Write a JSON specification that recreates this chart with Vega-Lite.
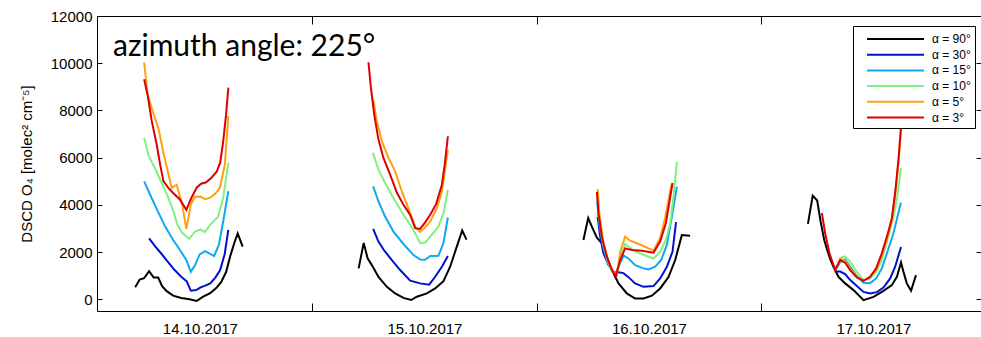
{
"$schema": "https://vega.github.io/schema/vega-lite/v6.json",
"width": 884, "height": 295,
"autosize": "none",
"padding": {"left": 97, "top": 16, "right": 0, "bottom": 26},
"background": "#ffffff",
"config": {"view": {"stroke": "#000", "strokeWidth": 1}, "font": "Liberation Sans"},
"title": {"text": "azimuth angle: 225°", "anchor": "start", "frame": "group", "orient": "top", "offset": -77, "dx": 16, "font": "Lato", "fontSize": 30, "fontWeight": "normal", "color": "#000", "baseline": "alphabetic"},
"data": {"values": [
{"a":"α = 90°","d":1,"h":5.08,"v":510},{"a":"α = 90°","d":1,"h":5.56,"v":830},{"a":"α = 90°","d":1,"h":6.04,"v":890},{"a":"α = 90°","d":1,"h":6.57,"v":1190},{"a":"α = 90°","d":1,"h":7.06,"v":920},{"a":"α = 90°","d":1,"h":7.54,"v":915},{"a":"α = 90°","d":1,"h":7.96,"v":550},{"a":"α = 90°","d":1,"h":8.45,"v":340},{"a":"α = 90°","d":1,"h":9.14,"v":150},{"a":"α = 90°","d":1,"h":10.0,"v":55},{"a":"α = 90°","d":1,"h":10.9,"v":0},{"a":"α = 90°","d":1,"h":11.65,"v":-75},{"a":"α = 90°","d":1,"h":12.35,"v":105},{"a":"α = 90°","d":1,"h":13.1,"v":255},{"a":"α = 90°","d":1,"h":13.74,"v":470},{"a":"α = 90°","d":1,"h":14.27,"v":720},{"a":"α = 90°","d":1,"h":14.8,"v":1150},{"a":"α = 90°","d":1,"h":15.29,"v":1890},{"a":"α = 90°","d":1,"h":15.66,"v":2360},{"a":"α = 90°","d":1,"h":16.04,"v":2790},{"a":"α = 90°","d":1,"h":16.57,"v":2225},
{"a":"α = 90°","d":2,"h":28.97,"v":1305},{"a":"α = 90°","d":2,"h":29.51,"v":2385},{"a":"α = 90°","d":2,"h":29.93,"v":1730},{"a":"α = 90°","d":2,"h":30.38,"v":1445},{"a":"α = 90°","d":2,"h":31.11,"v":935},{"a":"α = 90°","d":2,"h":31.99,"v":525},{"a":"α = 90°","d":2,"h":32.87,"v":245},{"a":"α = 90°","d":2,"h":33.76,"v":55},{"a":"α = 90°","d":2,"h":34.58,"v":-35},{"a":"α = 90°","d":2,"h":35.19,"v":105},{"a":"α = 90°","d":2,"h":36.26,"v":245},{"a":"α = 90°","d":2,"h":37.15,"v":455},{"a":"α = 90°","d":2,"h":38.04,"v":765},{"a":"α = 90°","d":2,"h":38.75,"v":1375},{"a":"α = 90°","d":2,"h":39.4,"v":2155},{"a":"α = 90°","d":2,"h":40.04,"v":2915},{"a":"α = 90°","d":2,"h":40.5,"v":2525},
{"a":"α = 90°","d":3,"h":53.0,"v":2510},{"a":"α = 90°","d":3,"h":53.51,"v":3435},{"a":"α = 90°","d":3,"h":53.9,"v":3075},{"a":"α = 90°","d":3,"h":54.44,"v":2605},{"a":"α = 90°","d":3,"h":54.97,"v":2370},{"a":"α = 90°","d":3,"h":55.5,"v":1800},{"a":"α = 90°","d":3,"h":56.04,"v":1235},{"a":"α = 90°","d":3,"h":56.75,"v":670},{"a":"α = 90°","d":3,"h":57.64,"v":245},{"a":"α = 90°","d":3,"h":58.53,"v":30},{"a":"α = 90°","d":3,"h":59.42,"v":30},{"a":"α = 90°","d":3,"h":60.32,"v":150},{"a":"α = 90°","d":3,"h":61.2,"v":455},{"a":"α = 90°","d":3,"h":62.09,"v":935},{"a":"α = 90°","d":3,"h":62.81,"v":1660},{"a":"α = 90°","d":3,"h":63.52,"v":2715},{"a":"α = 90°","d":3,"h":64.41,"v":2690},
{"a":"α = 90°","d":4,"h":77.0,"v":3190},{"a":"α = 90°","d":4,"h":77.51,"v":4390},{"a":"α = 90°","d":4,"h":77.99,"v":4180},{"a":"α = 90°","d":4,"h":78.36,"v":3275},{"a":"α = 90°","d":4,"h":78.74,"v":2510},{"a":"α = 90°","d":4,"h":79.06,"v":2085},{"a":"α = 90°","d":4,"h":79.38,"v":1700},{"a":"α = 90°","d":4,"h":79.73,"v":1375},{"a":"α = 90°","d":4,"h":80.26,"v":950},{"a":"α = 90°","d":4,"h":80.98,"v":670},{"a":"α = 90°","d":4,"h":81.87,"v":385},{"a":"α = 90°","d":4,"h":82.94,"v":-40},{"a":"α = 90°","d":4,"h":84.01,"v":100},{"a":"α = 90°","d":4,"h":85.07,"v":355},{"a":"α = 90°","d":4,"h":85.97,"v":595},{"a":"α = 90°","d":4,"h":86.51,"v":950},{"a":"α = 90°","d":4,"h":86.95,"v":1555},{"a":"α = 90°","d":4,"h":87.21,"v":1160},{"a":"α = 90°","d":4,"h":87.56,"v":680},{"a":"α = 90°","d":4,"h":88.02,"v":360},{"a":"α = 90°","d":4,"h":88.55,"v":1020},
{"a":"α = 30°","d":1,"h":6.57,"v":2575},{"a":"α = 30°","d":1,"h":7.22,"v":2235},{"a":"α = 30°","d":1,"h":7.91,"v":1915},{"a":"α = 30°","d":1,"h":8.6,"v":1575},{"a":"α = 30°","d":1,"h":9.3,"v":1235},{"a":"α = 30°","d":1,"h":10.0,"v":950},{"a":"α = 30°","d":1,"h":10.58,"v":765},{"a":"α = 30°","d":1,"h":11.03,"v":360},{"a":"α = 30°","d":1,"h":11.6,"v":385},{"a":"α = 30°","d":1,"h":12.03,"v":490},{"a":"α = 30°","d":1,"h":12.56,"v":575},{"a":"α = 30°","d":1,"h":13.1,"v":670},{"a":"α = 30°","d":1,"h":13.63,"v":905},{"a":"α = 30°","d":1,"h":14.17,"v":1235},{"a":"α = 30°","d":1,"h":14.65,"v":1915},{"a":"α = 30°","d":1,"h":15.04,"v":2935},
{"a":"α = 30°","d":2,"h":30.52,"v":2980},{"a":"α = 30°","d":2,"h":31.09,"v":2440},{"a":"α = 30°","d":2,"h":31.7,"v":2065},{"a":"α = 30°","d":2,"h":32.52,"v":1660},{"a":"α = 30°","d":2,"h":33.41,"v":1235},{"a":"α = 30°","d":2,"h":34.48,"v":785},{"a":"α = 30°","d":2,"h":35.55,"v":670},{"a":"α = 30°","d":2,"h":36.51,"v":615},{"a":"α = 30°","d":2,"h":37.15,"v":950},{"a":"α = 30°","d":2,"h":37.87,"v":1375},{"a":"α = 30°","d":2,"h":38.51,"v":1830},
{"a":"α = 30°","d":3,"h":54.52,"v":3490},{"a":"α = 30°","d":3,"h":54.79,"v":2650},{"a":"α = 30°","d":3,"h":55.14,"v":1945},{"a":"α = 30°","d":3,"h":55.68,"v":1445},{"a":"α = 30°","d":3,"h":56.21,"v":1160},{"a":"α = 30°","d":3,"h":56.75,"v":1140},{"a":"α = 30°","d":3,"h":57.28,"v":1105},{"a":"α = 30°","d":3,"h":57.81,"v":935},{"a":"α = 30°","d":3,"h":58.53,"v":670},{"a":"α = 30°","d":3,"h":59.42,"v":525},{"a":"α = 30°","d":3,"h":60.49,"v":555},{"a":"α = 30°","d":3,"h":61.2,"v":880},{"a":"α = 30°","d":3,"h":61.92,"v":1375},{"a":"α = 30°","d":3,"h":62.52,"v":2010},{"a":"α = 30°","d":3,"h":62.9,"v":3265},
{"a":"α = 30°","d":4,"h":79.91,"v":1170},{"a":"α = 30°","d":4,"h":80.45,"v":1170},{"a":"α = 30°","d":4,"h":80.98,"v":1065},{"a":"α = 30°","d":4,"h":81.52,"v":810},{"a":"α = 30°","d":4,"h":82.23,"v":555},{"a":"α = 30°","d":4,"h":82.94,"v":310},{"a":"α = 30°","d":4,"h":83.65,"v":245},{"a":"α = 30°","d":4,"h":84.37,"v":300},{"a":"α = 30°","d":4,"h":85.07,"v":490},{"a":"α = 30°","d":4,"h":85.79,"v":880},{"a":"α = 30°","d":4,"h":86.32,"v":1375},{"a":"α = 30°","d":4,"h":86.95,"v":2210},
{"a":"α = 15°","d":1,"h":6.04,"v":4990},{"a":"α = 15°","d":1,"h":6.68,"v":4425},{"a":"α = 15°","d":1,"h":7.38,"v":3830},{"a":"α = 15°","d":1,"h":8.29,"v":3075},{"a":"α = 15°","d":1,"h":9.14,"v":2510},{"a":"α = 15°","d":1,"h":9.94,"v":2040},{"a":"α = 15°","d":1,"h":10.55,"v":1660},{"a":"α = 15°","d":1,"h":11.03,"v":1160},{"a":"α = 15°","d":1,"h":11.49,"v":1445},{"a":"α = 15°","d":1,"h":11.97,"v":1895},{"a":"α = 15°","d":1,"h":12.56,"v":2040},{"a":"α = 15°","d":1,"h":13.52,"v":1830},{"a":"α = 15°","d":1,"h":14.03,"v":2300},{"a":"α = 15°","d":1,"h":14.49,"v":3290},{"a":"α = 15°","d":1,"h":15.04,"v":4580},
{"a":"α = 15°","d":2,"h":30.52,"v":4780},{"a":"α = 15°","d":2,"h":31.09,"v":4140},{"a":"α = 15°","d":2,"h":31.8,"v":3500},{"a":"α = 15°","d":2,"h":32.69,"v":2865},{"a":"α = 15°","d":2,"h":33.76,"v":2340},{"a":"α = 15°","d":2,"h":34.83,"v":1870},{"a":"α = 15°","d":2,"h":35.55,"v":1680},{"a":"α = 15°","d":2,"h":36.08,"v":1670},{"a":"α = 15°","d":2,"h":36.62,"v":1830},{"a":"α = 15°","d":2,"h":37.5,"v":1840},{"a":"α = 15°","d":2,"h":38.04,"v":2385},{"a":"α = 15°","d":2,"h":38.51,"v":3460},
{"a":"α = 15°","d":3,"h":54.47,"v":4140},{"a":"α = 15°","d":3,"h":54.68,"v":3220},{"a":"α = 15°","d":3,"h":55.04,"v":2370},{"a":"α = 15°","d":3,"h":55.5,"v":1660},{"a":"α = 15°","d":3,"h":56.04,"v":1205},{"a":"α = 15°","d":3,"h":56.45,"v":1105},{"a":"α = 15°","d":3,"h":56.82,"v":1445},{"a":"α = 15°","d":3,"h":57.3,"v":1850},{"a":"α = 15°","d":3,"h":57.81,"v":1725},{"a":"α = 15°","d":3,"h":58.53,"v":1445},{"a":"α = 15°","d":3,"h":59.42,"v":1305},{"a":"α = 15°","d":3,"h":59.95,"v":1265},{"a":"α = 15°","d":3,"h":60.67,"v":1375},{"a":"α = 15°","d":3,"h":61.31,"v":1660},{"a":"α = 15°","d":3,"h":61.92,"v":2300},{"a":"α = 15°","d":3,"h":62.45,"v":3490},{"a":"α = 15°","d":3,"h":62.99,"v":4765},
{"a":"α = 15°","d":4,"h":79.91,"v":1205},{"a":"α = 15°","d":4,"h":80.45,"v":1575},{"a":"α = 15°","d":4,"h":80.98,"v":1680},{"a":"α = 15°","d":4,"h":81.52,"v":1375},{"a":"α = 15°","d":4,"h":82.23,"v":980},{"a":"α = 15°","d":4,"h":82.94,"v":695},{"a":"α = 15°","d":4,"h":83.65,"v":680},{"a":"α = 15°","d":4,"h":84.29,"v":880},{"a":"α = 15°","d":4,"h":84.9,"v":1305},{"a":"α = 15°","d":4,"h":85.5,"v":2010},{"a":"α = 15°","d":4,"h":86.14,"v":2795},{"a":"α = 15°","d":4,"h":86.94,"v":4100},
{"a":"α = 10°","d":1,"h":6.04,"v":6840},{"a":"α = 10°","d":1,"h":6.52,"v":6085},{"a":"α = 10°","d":1,"h":7.22,"v":5530},{"a":"α = 10°","d":1,"h":7.91,"v":4925},{"a":"α = 10°","d":1,"h":8.5,"v":4425},{"a":"α = 10°","d":1,"h":9.12,"v":3785},{"a":"α = 10°","d":1,"h":9.6,"v":3150},{"a":"α = 10°","d":1,"h":10.1,"v":2810},{"a":"α = 10°","d":1,"h":10.85,"v":2555},{"a":"α = 10°","d":1,"h":11.49,"v":2870},{"a":"α = 10°","d":1,"h":12.03,"v":2955},{"a":"α = 10°","d":1,"h":12.51,"v":2840},{"a":"α = 10°","d":1,"h":13.1,"v":3150},{"a":"α = 10°","d":1,"h":13.95,"v":3500},{"a":"α = 10°","d":1,"h":14.49,"v":4285},{"a":"α = 10°","d":1,"h":15.04,"v":5775},
{"a":"α = 10°","d":2,"h":30.49,"v":6200},{"a":"α = 10°","d":2,"h":31.09,"v":5490},{"a":"α = 10°","d":2,"h":31.8,"v":4925},{"a":"α = 10°","d":2,"h":32.69,"v":4285},{"a":"α = 10°","d":2,"h":33.76,"v":3575},{"a":"α = 10°","d":2,"h":34.83,"v":2935},{"a":"α = 10°","d":2,"h":35.55,"v":2370},{"a":"α = 10°","d":2,"h":36.08,"v":2395},{"a":"α = 10°","d":2,"h":36.62,"v":2650},{"a":"α = 10°","d":2,"h":37.5,"v":3075},{"a":"α = 10°","d":2,"h":38.04,"v":3645},{"a":"α = 10°","d":2,"h":38.51,"v":4640},
{"a":"α = 10°","d":3,"h":54.49,"v":4470},{"a":"α = 10°","d":3,"h":54.79,"v":3360},{"a":"α = 10°","d":3,"h":55.14,"v":2300},{"a":"α = 10°","d":3,"h":55.64,"v":1575},{"a":"α = 10°","d":3,"h":56.07,"v":1150},{"a":"α = 10°","d":3,"h":56.55,"v":1020},{"a":"α = 10°","d":3,"h":56.93,"v":1745},{"a":"α = 10°","d":3,"h":57.46,"v":2340},{"a":"α = 10°","d":3,"h":58.0,"v":2170},{"a":"α = 10°","d":3,"h":58.71,"v":2000},{"a":"α = 10°","d":3,"h":59.6,"v":1850},{"a":"α = 10°","d":3,"h":60.49,"v":1725},{"a":"α = 10°","d":3,"h":61.2,"v":2010},{"a":"α = 10°","d":3,"h":61.81,"v":2510},{"a":"α = 10°","d":3,"h":62.27,"v":3220},{"a":"α = 10°","d":3,"h":62.65,"v":4425},{"a":"α = 10°","d":3,"h":62.99,"v":5815},
{"a":"α = 10°","d":4,"h":79.91,"v":1235},{"a":"α = 10°","d":4,"h":80.63,"v":1775},{"a":"α = 10°","d":4,"h":80.98,"v":1810},{"a":"α = 10°","d":4,"h":81.52,"v":1585},{"a":"α = 10°","d":4,"h":82.23,"v":1160},{"a":"α = 10°","d":4,"h":82.94,"v":810},{"a":"α = 10°","d":4,"h":83.65,"v":870},{"a":"α = 10°","d":4,"h":84.29,"v":1160},{"a":"α = 10°","d":4,"h":84.9,"v":1660},{"a":"α = 10°","d":4,"h":85.5,"v":2510},{"a":"α = 10°","d":4,"h":86.08,"v":3360},{"a":"α = 10°","d":4,"h":86.51,"v":4210},{"a":"α = 10°","d":4,"h":86.94,"v":5560},
{"a":"α = 5°","d":1,"h":6.04,"v":10030},{"a":"α = 5°","d":1,"h":6.41,"v":8680},{"a":"α = 5°","d":1,"h":6.9,"v":8040},{"a":"α = 5°","d":1,"h":7.59,"v":7190},{"a":"α = 5°","d":1,"h":8.07,"v":6255},{"a":"α = 5°","d":1,"h":8.55,"v":5445},{"a":"α = 5°","d":1,"h":8.98,"v":4720},{"a":"α = 5°","d":1,"h":9.52,"v":4850},{"a":"α = 5°","d":1,"h":10.11,"v":4000},{"a":"α = 5°","d":1,"h":10.55,"v":2980},{"a":"α = 5°","d":1,"h":11.03,"v":4000},{"a":"α = 5°","d":1,"h":11.46,"v":4340},{"a":"α = 5°","d":1,"h":12.03,"v":4350},{"a":"α = 5°","d":1,"h":12.59,"v":4235},{"a":"α = 5°","d":1,"h":13.1,"v":4300},{"a":"α = 5°","d":1,"h":13.6,"v":4455},{"a":"α = 5°","d":1,"h":14.13,"v":4710},{"a":"α = 5°","d":1,"h":14.67,"v":5700},{"a":"α = 5°","d":1,"h":15.04,"v":7760},
{"a":"α = 5°","d":2,"h":30.52,"v":8470},{"a":"α = 5°","d":2,"h":30.92,"v":7545},{"a":"α = 5°","d":2,"h":31.45,"v":6695},{"a":"α = 5°","d":2,"h":32.16,"v":5985},{"a":"α = 5°","d":2,"h":32.87,"v":5415},{"a":"α = 5°","d":2,"h":33.59,"v":4565},{"a":"α = 5°","d":2,"h":34.3,"v":3830},{"a":"α = 5°","d":2,"h":35.01,"v":3075},{"a":"α = 5°","d":2,"h":35.55,"v":2850},{"a":"α = 5°","d":2,"h":35.97,"v":3000},{"a":"α = 5°","d":2,"h":36.62,"v":3290},{"a":"α = 5°","d":2,"h":37.33,"v":3860},{"a":"α = 5°","d":2,"h":37.87,"v":4565},{"a":"α = 5°","d":2,"h":38.51,"v":6320},
{"a":"α = 5°","d":3,"h":54.54,"v":4660},{"a":"α = 5°","d":3,"h":54.68,"v":3645},{"a":"α = 5°","d":3,"h":55.14,"v":2370},{"a":"α = 5°","d":3,"h":55.68,"v":1585},{"a":"α = 5°","d":3,"h":56.21,"v":1160},{"a":"α = 5°","d":3,"h":56.57,"v":1020},{"a":"α = 5°","d":3,"h":56.93,"v":2010},{"a":"α = 5°","d":3,"h":57.46,"v":2650},{"a":"α = 5°","d":3,"h":58.0,"v":2480},{"a":"α = 5°","d":3,"h":58.71,"v":2370},{"a":"α = 5°","d":3,"h":59.42,"v":2255},{"a":"α = 5°","d":3,"h":59.95,"v":2155},{"a":"α = 5°","d":3,"h":60.49,"v":2055},{"a":"α = 5°","d":3,"h":61.2,"v":2595},{"a":"α = 5°","d":3,"h":61.74,"v":3450},{"a":"α = 5°","d":3,"h":62.17,"v":4380},{"a":"α = 5°","d":3,"h":62.45,"v":4890},
{"a":"α = 5°","d":4,"h":79.91,"v":1235},{"a":"α = 5°","d":4,"h":80.45,"v":1725},{"a":"α = 5°","d":4,"h":80.98,"v":1615},{"a":"α = 5°","d":4,"h":81.52,"v":1300},{"a":"α = 5°","d":4,"h":82.23,"v":955},{"a":"α = 5°","d":4,"h":82.94,"v":790},{"a":"α = 5°","d":4,"h":83.65,"v":935},{"a":"α = 5°","d":4,"h":84.29,"v":1255},{"a":"α = 5°","d":4,"h":84.9,"v":1870},{"a":"α = 5°","d":4,"h":85.5,"v":2615},{"a":"α = 5°","d":4,"h":85.97,"v":3320},{"a":"α = 5°","d":4,"h":86.32,"v":4380},{"a":"α = 5°","d":4,"h":86.68,"v":5830},{"a":"α = 5°","d":4,"h":86.97,"v":7320},
{"a":"α = 3°","d":1,"h":6.04,"v":9320},{"a":"α = 3°","d":1,"h":6.45,"v":8575},{"a":"α = 3°","d":1,"h":6.84,"v":7575},{"a":"α = 3°","d":1,"h":7.38,"v":6555},{"a":"α = 3°","d":1,"h":7.75,"v":5700},{"a":"α = 3°","d":1,"h":8.1,"v":5000},{"a":"α = 3°","d":1,"h":8.6,"v":4725},{"a":"α = 3°","d":1,"h":9.14,"v":4500},{"a":"α = 3°","d":1,"h":9.84,"v":4235},{"a":"α = 3°","d":1,"h":10.55,"v":3785},{"a":"α = 3°","d":1,"h":11.06,"v":4265},{"a":"α = 3°","d":1,"h":11.65,"v":4725},{"a":"α = 3°","d":1,"h":12.13,"v":4895},{"a":"α = 3°","d":1,"h":12.67,"v":4955},{"a":"α = 3°","d":1,"h":13.2,"v":5130},{"a":"α = 3°","d":1,"h":13.81,"v":5415},{"a":"α = 3°","d":1,"h":14.17,"v":5785},{"a":"α = 3°","d":1,"h":14.49,"v":6680},{"a":"α = 3°","d":1,"h":14.8,"v":7830},{"a":"α = 3°","d":1,"h":15.04,"v":8965},
{"a":"α = 3°","d":2,"h":30.02,"v":10040},{"a":"α = 3°","d":2,"h":30.28,"v":8965},{"a":"α = 3°","d":2,"h":30.63,"v":7830},{"a":"α = 3°","d":2,"h":31.09,"v":6765},{"a":"α = 3°","d":2,"h":31.62,"v":5985},{"a":"α = 3°","d":2,"h":32.34,"v":5275},{"a":"α = 3°","d":2,"h":33.06,"v":4510},{"a":"α = 3°","d":2,"h":33.76,"v":4000},{"a":"α = 3°","d":2,"h":34.48,"v":3575},{"a":"α = 3°","d":2,"h":35.01,"v":3010},{"a":"α = 3°","d":2,"h":35.55,"v":2980},{"a":"α = 3°","d":2,"h":36.08,"v":3255},{"a":"α = 3°","d":2,"h":36.62,"v":3575},{"a":"α = 3°","d":2,"h":37.26,"v":4040},{"a":"α = 3°","d":2,"h":37.87,"v":4850},{"a":"α = 3°","d":2,"h":38.17,"v":5700},{"a":"α = 3°","d":2,"h":38.51,"v":6905},
{"a":"α = 3°","d":3,"h":54.44,"v":4550},{"a":"α = 3°","d":3,"h":54.61,"v":3645},{"a":"α = 3°","d":3,"h":54.97,"v":2650},{"a":"α = 3°","d":3,"h":55.5,"v":1800},{"a":"α = 3°","d":3,"h":56.04,"v":1235},{"a":"α = 3°","d":3,"h":56.47,"v":980},{"a":"α = 3°","d":3,"h":56.93,"v":1660},{"a":"α = 3°","d":3,"h":57.46,"v":2155},{"a":"α = 3°","d":3,"h":58.18,"v":2085},{"a":"α = 3°","d":3,"h":59.25,"v":2055},{"a":"α = 3°","d":3,"h":60.49,"v":1970},{"a":"α = 3°","d":3,"h":61.2,"v":2440},{"a":"α = 3°","d":3,"h":61.81,"v":3220},{"a":"α = 3°","d":3,"h":62.17,"v":4070},{"a":"α = 3°","d":3,"h":62.52,"v":4925},
{"a":"α = 3°","d":4,"h":78.49,"v":3645},{"a":"α = 3°","d":4,"h":78.84,"v":2795},{"a":"α = 3°","d":4,"h":79.3,"v":1945},{"a":"α = 3°","d":4,"h":79.91,"v":1235},{"a":"α = 3°","d":4,"h":80.45,"v":1660},{"a":"α = 3°","d":4,"h":80.98,"v":1545},{"a":"α = 3°","d":4,"h":81.52,"v":1235},{"a":"α = 3°","d":4,"h":82.23,"v":925},{"a":"α = 3°","d":4,"h":82.94,"v":780},{"a":"α = 3°","d":4,"h":83.65,"v":950},{"a":"α = 3°","d":4,"h":84.29,"v":1305},{"a":"α = 3°","d":4,"h":84.9,"v":1945},{"a":"α = 3°","d":4,"h":85.5,"v":2725},{"a":"α = 3°","d":4,"h":85.97,"v":3435},{"a":"α = 3°","d":4,"h":86.32,"v":4500},{"a":"α = 3°","d":4,"h":86.68,"v":5915},{"a":"α = 3°","d":4,"h":86.97,"v":7400}
]},
"layer": [
{"mark": {"type": "line", "strokeWidth": 2, "clip": true},
 "encoding": {
  "x": {"field": "h", "type": "quantitative", "scale": {"domain": [1, 95.5], "nice": false, "zero": false},
        "axis": {"orient": "bottom", "values": [12,24,36,48,60,72,84], "labelExpr": "datum.value==12?'14.10.2017':datum.value==36?'15.10.2017':datum.value==60?'16.10.2017':datum.value==84?'17.10.2017':''",
                 "tickSize": -8, "tickColor": "#000", "tickOpacity": {"condition": {"test": "datum.value % 24 == 12", "value": 0}, "value": 1},
                 "domain": false, "grid": false, "labelFont": "Liberation Sans", "labelFontSize": 15, "labelColor": "#000", "labelPadding": 18, "labelFlush": false, "labelOverlap": false, "title": null}},
  "y": {"field": "v", "type": "quantitative", "scale": {"domain": [-500, 12000], "nice": false, "zero": false},
        "axis": {"orient": "left", "values": [0,2000,4000,6000,8000,10000,12000], "format": "d", "tickSize": -5, "tickColor": "#000", "domain": false, "grid": false,
                 "labelFont": "Liberation Sans", "labelFontSize": 15, "labelColor": "#000", "labelPadding": 10, "labelFlush": false, "labelOverlap": false,
                 "title": "DSCD O₄ [molec² cm⁻⁵]", "titleFont": "Liberation Sans", "titleFontSize": 15, "titleFontWeight": "normal", "titleColor": "#000", "titlePadding": 16}},
  "color": {"field": "a", "type": "nominal",
            "scale": {"domain": ["α = 90°","α = 30°","α = 15°","α = 10°","α = 5°","α = 3°"], "range": ["#000000","#0010d0","#10a8f0","#80f080","#ffa010","#dd0000"]},
            "legend": {"orient": "none", "legendX": 756, "legendY": 10, "title": null, "symbolType": "M-3.5625,0H3.5625", "symbolSize": 256, "symbolStrokeWidth": 2, "symbolOffset": 29.5, "padding": 4,
                       "labelFont": "Liberation Sans", "labelFontSize": 12, "labelOffset": 27.5, "labelColor": "#000", "rowPadding": 0.7, "fillColor": "#ffffff", "strokeColor": "#000000"}},
  "detail": {"field": "d", "type": "nominal"}
 }},
{"mark": {"type": "point", "opacity": 0},
 "encoding": {
  "x": {"field": "h", "type": "quantitative", "axis": {"orient": "top", "values": [24,48,72], "labels": false, "tickSize": -8, "tickColor": "#000", "domain": false, "grid": false, "title": null}},
  "y": {"field": "v", "type": "quantitative", "axis": {"orient": "right", "values": [0,2000,4000,6000,8000,10000,12000], "labels": false, "tickSize": -5, "tickColor": "#000", "domain": false, "grid": false, "title": null}}
 }}
],
"resolve": {"axis": {"x": "independent", "y": "independent"}}
}
